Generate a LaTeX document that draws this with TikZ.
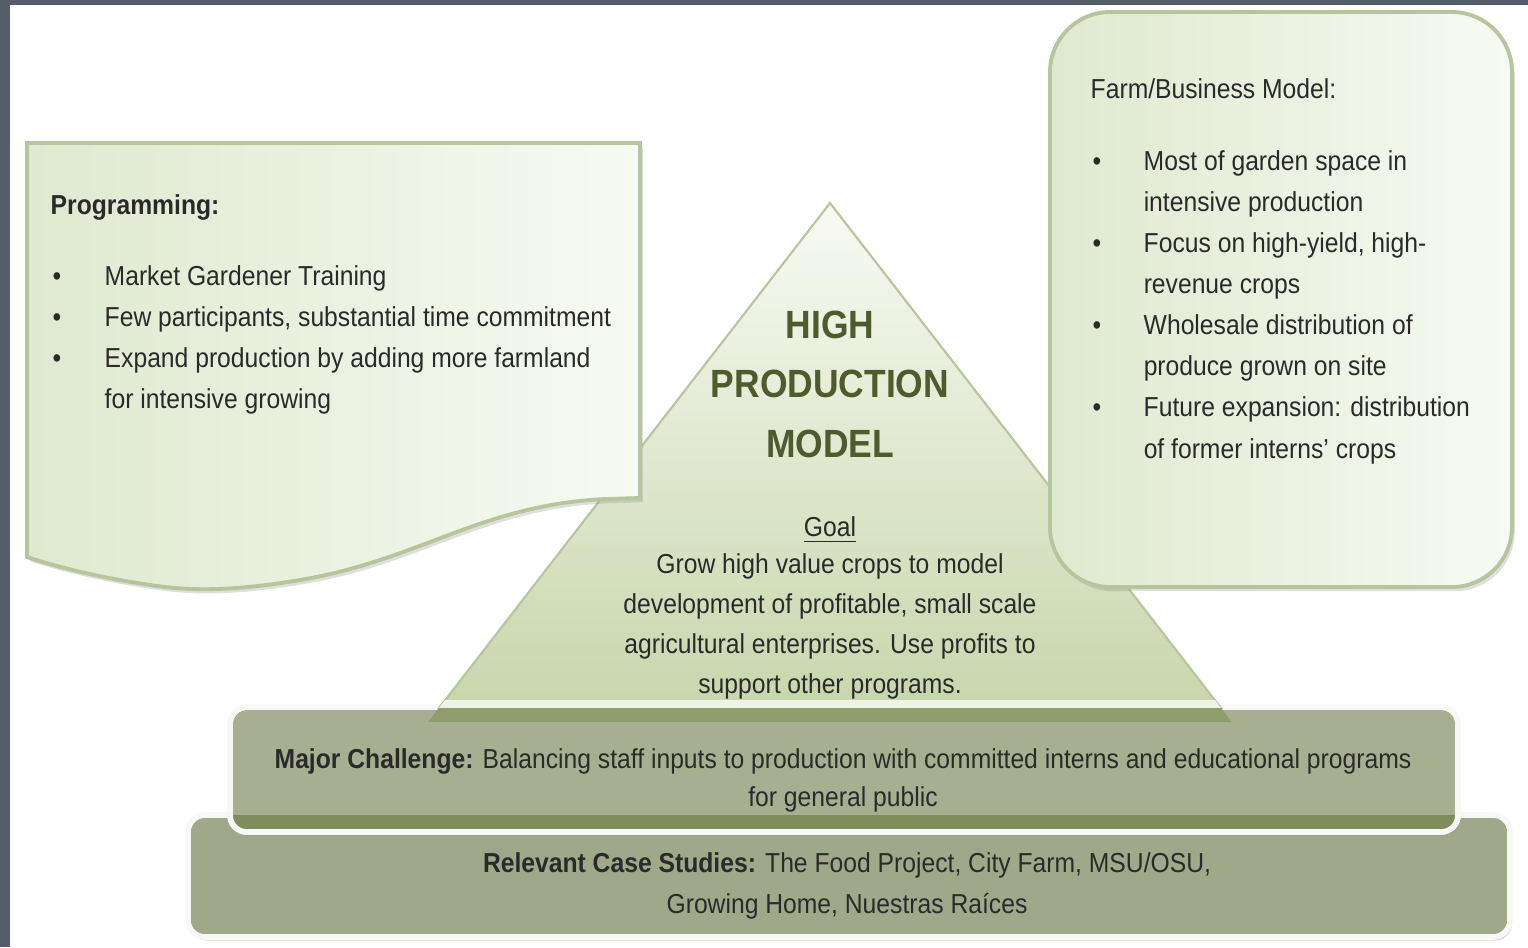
\documentclass[tikz,border=0pt]{standalone}
\usepackage{fontspec}
\setmainfont{Liberation Sans}[FakeStretch=0.9]
\usetikzlibrary{shadows}

\definecolor{framegray}{HTML}{565C69}
\definecolor{inkgray}{HTML}{2A2A2A}
\definecolor{titlegreen}{HTML}{4E5B2C}
\definecolor{paleleft}{HTML}{DFE9CF}
\definecolor{paleright}{HTML}{F7FAF2}
\definecolor{edgegreen}{HTML}{B7C59C}
\definecolor{pyrtop}{HTML}{F8FAF3}
\definecolor{pyrbottom}{HTML}{C8D6AC}
\definecolor{pyrband}{HTML}{8E9E6A}
\definecolor{stepfill}{HTML}{A7AF90}
\definecolor{stepdark}{HTML}{7F8C5C}

\begin{document}
\begin{tikzpicture}[x=0.01cm, y=-0.01cm,
  body/.style={text=inkgray, font=\fontsize{7.8}{11.7}\selectfont, inner sep=0pt},
  title/.style={text=titlegreen, font=\fontsize{11.2}{16.9}\selectfont\bfseries, align=center, inner sep=0pt},
  panel/.style={draw=edgegreen, line width=1.1pt, left color=paleleft, right color=paleright,
    drop shadow={shadow xshift=0.8pt, shadow yshift=-1.2pt, opacity=0.25}},
  stepedge/.style={draw=white!92!stepfill, line width=1.6pt, rounded corners=0.17cm,
    drop shadow={shadow xshift=0.6pt, shadow yshift=-1pt, opacity=0.3}}]

% page and frame
\useasboundingbox (0,0) rectangle (1528,947);
\fill[white] (0,0) rectangle (1528,947);
\fill[framegray] (0,0) rectangle (10,947);
\fill[framegray] (0,0) rectangle (1528,5);

% case studies step
\path[stepedge, fill=stepfill!96!black] (188,815) rectangle (1510,937);

% challenge step
\path[stepedge, fill=stepfill] (230,707) rectangle (1458,832);
\begin{scope}
  \clip[rounded corners=0.17cm] (230,707) rectangle (1458,832);
  \fill[stepdark] (230,815) rectangle (1458,832);
\end{scope}
\draw[white!92!stepfill, line width=1.6pt, rounded corners=0.17cm] (230,707) rectangle (1458,832);

% pyramid
\path[draw=edgegreen, line width=0.6pt, top color=pyrtop, bottom color=pyrbottom]
  (830,203) -- (1221,708) -- (439,708) -- cycle;
\fill[white!70!pyrbottom] (445,700) -- (1215,700) -- (1221,708) -- (439,708) -- cycle;
\fill[pyrband] (439,708) -- (1221,708) -- (1232,722) -- (428,722) -- cycle;

% programming panel
\path[panel] (27,143) -- (640,143) -- (640,498) -- (605,499)
  .. controls (480,505) and (420,560) .. (300,580)
  .. controls (240,590) and (200,591) .. (165,587)
  .. controls (110,580) and (60,568) .. (27,557) -- cycle;

% farm panel
\path[panel, rounded corners=0.6cm] (1050,12) rectangle (1512,587);

% texts
\node[body, font=\fontsize{7.8}{11.7}\selectfont\bfseries, anchor=base west] (progHead) at (50,214) {Programming:};
\node[body, anchor=base west] (progList) at (52,285) {\begin{tabular}[t]{@{}p{0.52cm}@{}l@{}}
  \textbullet & Market Gardener Training\\
  \textbullet & Few participants, substantial time commitment\\
  \textbullet & Expand production by adding more farmland\\
              & for intensive growing
\end{tabular}};

\node[body, anchor=base west] (farmHead) at (1090,98) {Farm/Business Model:};
\node[body, anchor=base west] (farmList) at (1092,170) {\begin{tabular}[t]{@{}p{0.51cm}@{}l@{}}
  \textbullet & Most of garden space in\\
              & intensive production\\
  \textbullet & Focus on high-yield, high-\\
              & revenue crops\\
  \textbullet & Wholesale distribution of\\
              & produce grown on site\\
  \textbullet & Future expansion: distribution\\
              & of former interns’ crops
\end{tabular}};

% multi-line nodes sit on their last baseline
\node[title, anchor=base] (pyrTitle) at (830,457) {HIGH\\PRODUCTION\\MODEL};
\node[body, anchor=base] (goalHead) at (830,536) {\underline{Goal}};
\node[body, align=center, anchor=base, font=\fontsize{7.8}{11.3}\selectfont] (goalText) at (830,693)
  {Grow high value crops to model\\development of profitable, small scale\\agricultural enterprises. Use profits to\\support other programs.};

\node[body, align=center, anchor=base, font=\fontsize{7.8}{10.6}\selectfont] (challenge) at (843,806)
  {\textbf{Major Challenge:} Balancing staff inputs to production with committed interns and educational programs\\for general public};
\node[body, align=center, anchor=base, font=\fontsize{7.8}{11.4}\selectfont] (cases) at (847,913)
  {\textbf{Relevant Case Studies:} The Food Project, City Farm, MSU/OSU,\\Growing Home, Nuestras Raíces};
\end{tikzpicture}
\end{document}
